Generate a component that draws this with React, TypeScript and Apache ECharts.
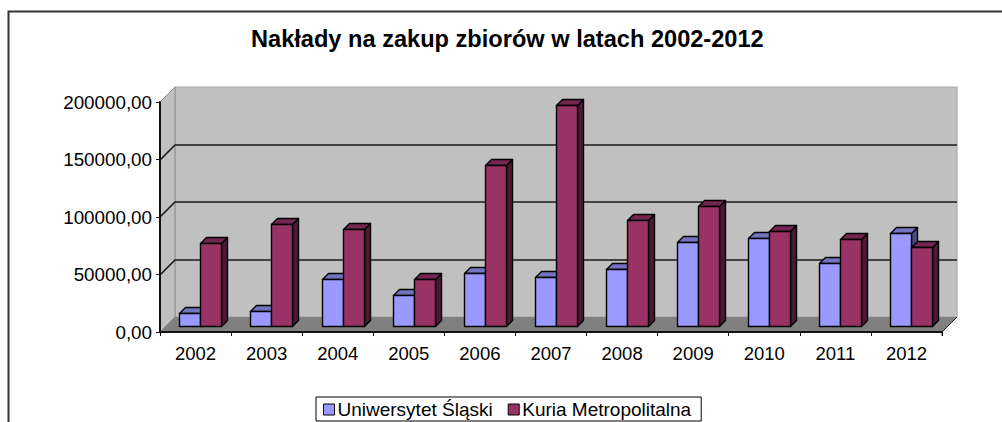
import React, { useEffect, useRef } from "react";
import * as echarts from "echarts";

const titleText = "Nakłady na zakup zbiorów w latach 2002-2012";
const categories = ["2002","2003","2004","2005","2006","2007","2008","2009","2010","2011","2012"];
const slaskiName = "Uniwersytet Śląski";
const kuriaName = "Kuria Metropolitalna";
const slaski = [11600,13300,41200,26700,45800,43000,49600,73300,76500,54500,81100];
const kuria = [72400,88700,84100,40600,139700,192500,92500,104600,82300,75400,69000];
const yTicks = [0,50000,100000,150000,200000];

const BAR_W = 21;
const FRONT = { dx: 4.8, dy: -6 };
const BACK = { dx: 15, dy: -15 };
const D = 6;

const barSeries = (name: string, values: number[], offset: number, face: string, top: string, side: string) => ({
  name,
  type: "custom",
  coordinateSystem: "cartesian2d",
  clip: false,
  z: 5,
  itemStyle: { color: face, borderColor: "#000", borderWidth: 1 },
  encode: { x: 0, y: 1 },
  data: values.map((v, i) => [i, v]),
  renderItem: (_: any, api: any) => {
    const p = api.coord([api.value(0), api.value(1)]);
    const b = api.coord([api.value(0), 0]);
    const x0 = Math.round(p[0] + FRONT.dx + offset * BAR_W) + 0.5;
    const x1 = x0 + BAR_W;
    const yt = Math.round(p[1] + FRONT.dy) + 0.5;
    const yb = Math.round(b[1] + FRONT.dy) + 0.5;
    const line = { stroke: "#000", lineWidth: 1.4, lineJoin: "round" };
    return {
      type: "group",
      children: [
        { type: "polygon", shape: { points: [[x1, yt], [x1 + D, yt - D], [x1 + D, yb - D], [x1, yb]] }, style: { fill: side, ...line } },
        { type: "polygon", shape: { points: [[x0, yt], [x0 + D, yt - D], [x1 + D, yt - D], [x1, yt]] }, style: { fill: top, ...line } },
        { type: "rect", shape: { x: x0, y: yt, width: BAR_W, height: yb - yt }, style: { fill: face, ...line } },
      ],
    };
  },
});

const wallSeries = {
  type: "custom",
  coordinateSystem: "cartesian2d",
  silent: true,
  clip: false,
  z: 1,
  legendHoverLink: false,
  data: [[0, 0]],
  renderItem: (_: any, api: any) => {
    const band = api.size([1, 0])[0];
    const xL = api.coord([0, 0])[0] - band / 2;
    const y0 = api.coord([0, 0])[1];
    const xR = api.coord([categories.length - 1, 0])[0] + band / 2;
    const yT = api.coord([0, yTicks[yTicks.length - 1]])[1];
    const d = BACK;
    const grid: any[] = [];
    yTicks.slice(1, -1).forEach((t) => {
      const y = Math.round(api.coord([0, t])[1]);
      grid.push({ type: "polyline", shape: { points: [[xL, y], [xL + d.dx, y + d.dy], [xR + d.dx, y + d.dy]] }, style: { fill: "none", stroke: "#1a1a1a", lineWidth: 1.6 } });
    });
    return {
      type: "group",
      children: [
        { type: "polygon", shape: { points: [[xL + d.dx, y0 + d.dy], [xR + d.dx, y0 + d.dy], [xR + d.dx, yT + d.dy], [xL + d.dx, yT + d.dy]] }, style: { fill: "#c0c0c0", stroke: "#a8a8a8", lineWidth: 1.2 } },
        { type: "polygon", shape: { points: [[xL, y0], [xL + d.dx, y0 + d.dy], [xL + d.dx, yT + d.dy], [xL, yT]] }, style: { fill: "#c0c0c0", stroke: "#8c8c8c", lineWidth: 1 } },
        { type: "polygon", shape: { points: [[xL, y0], [xR, y0], [xR + d.dx, y0 + d.dy], [xL + d.dx, y0 + d.dy]] }, style: { fill: "#808080" } },
        { type: "polyline", shape: { points: [[xR, y0 + 4], [xR, y0], [xR + d.dx, y0 + d.dy]] }, style: { fill: "none", stroke: "#222", lineWidth: 1 } },
        ...grid,
      ],
    };
  },
};

export default function App() {
  const ref = useRef<HTMLDivElement>(null);
  useEffect(() => {
    const chart = echarts.init(ref.current!, null, { renderer: "svg" });
    const font = '"Liberation Sans", Arial, sans-serif';
    chart.setOption({
      animation: false,
      backgroundColor: "#fff",
      textStyle: { fontFamily: font },
      title: {
        text: titleText,
        left: 246,
        top: 22,
        textStyle: { fontFamily: font, fontSize: 23.6, fontWeight: "bold", color: "#000" },
      },
      legend: {
        left: 316,
        top: 397,
        data: [slaskiName, kuriaName],
        icon: "rect",
        itemWidth: 11,
        itemHeight: 11,
        itemGap: 15,
        padding: [3, 10, 2, 7],
        borderColor: "#000",
        borderWidth: 1,
        backgroundColor: "#fff",
        itemStyle: { borderColor: "#000", borderWidth: 1 },
        textStyle: { fontFamily: font, fontSize: 19, color: "#000", padding: [0, 0, 0, -2] },
      },
      grid: { left: 160, right: 60, top: 102, height: 230, containLabel: false },
      xAxis: {
        type: "category",
        data: categories,
        boundaryGap: true,
        z: 6,
        axisLine: { lineStyle: { color: "#111", width: 2 } },
        axisTick: { show: true, alignWithLabel: false, length: 4, lineStyle: { color: "#111", width: 1 } },
        axisLabel: { fontFamily: font, fontSize: 18.5, color: "#000", margin: 12 },
        splitLine: { show: false },
      },
      yAxis: {
        type: "value",
        min: 0,
        max: 200000,
        interval: 50000,
        z: 6,
        axisLine: { show: true, lineStyle: { color: "#111", width: 2 } },
        axisTick: { show: true, length: 4, lineStyle: { color: "#111", width: 1 } },
        axisLabel: { fontFamily: font, fontSize: 18.8, color: "#000", margin: 8, formatter: (v: number) => v.toFixed(2).replace(".", ",") },
        splitLine: { show: false },
      },
      series: [
        wallSeries,
        barSeries(slaskiName, slaski, -1, "#9999ff", "#7373bf", "#4d4d80"),
        barSeries(kuriaName, kuria, 0, "#993366", "#732650", "#4a1a33"),
      ],
      graphic: [
        { type: "polyline", silent: true, shape: { points: [[8.5, 422], [8.5, 11.5], [1002, 11.5]] }, style: { fill: "none", stroke: "#333", lineWidth: 2 } },
      ],
    });
    return () => chart.dispose();
  }, []);
  return <div ref={ref} style={{ position: "fixed", left: 0, top: 0, width: 1002, height: 422 }} />;
}
